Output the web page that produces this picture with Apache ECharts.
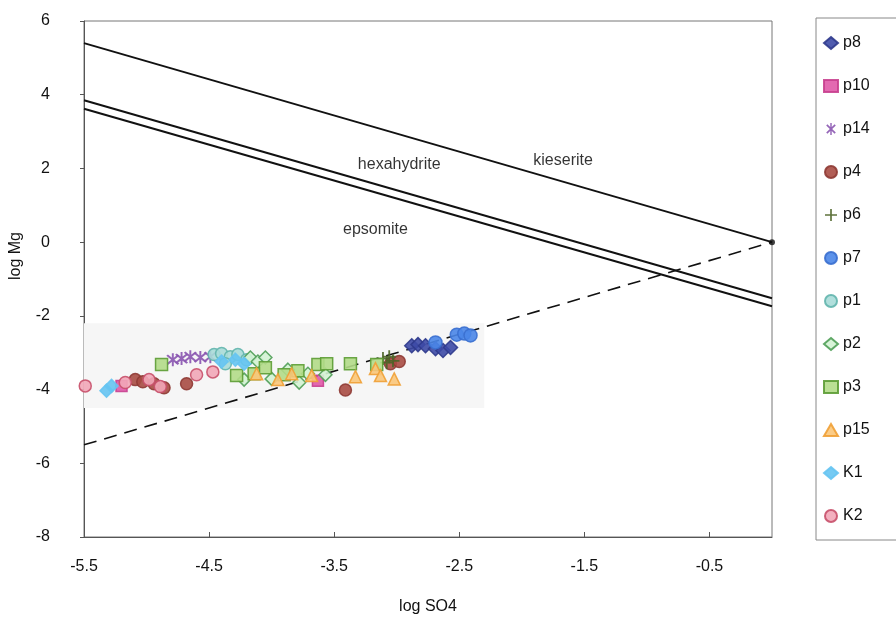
<!DOCTYPE html>
<html>
<head>
<meta charset="utf-8">
<script src="https://cdn.jsdelivr.net/npm/echarts@6/dist/echarts.min.js"></script>
<style>html,body{margin:0;padding:0;background:#fff}#c{width:896px;height:620px}</style>
</head>
<body>
<div id="c"></div>
<script>
// ---- data (log SO4, log Mg) ----
var p8  = [[-2.88,-2.81],[-2.83,-2.78],[-2.77,-2.81],[-2.69,-2.89],[-2.63,-2.94],[-2.57,-2.86]];
var p10 = [[-5.20,-3.90],[-3.63,-3.76]];
var p14 = [[-4.79,-3.19],[-4.72,-3.16],[-4.65,-3.11],[-4.57,-3.13],[-4.49,-3.11]];
var p4  = [[-5.09,-3.73],[-5.03,-3.79],[-4.94,-3.84],[-4.86,-3.95],[-4.68,-3.84],[-3.41,-4.01],[-3.05,-3.30],[-2.98,-3.24]];
var p6  = [[-3.11,-3.16],[-3.06,-3.11],[-3.03,-3.22],[-3.08,-3.27]];
var p7  = [[-2.69,-2.72],[-2.52,-2.51],[-2.46,-2.48],[-2.41,-2.53]];
var p1  = [[-4.46,-3.05],[-4.40,-3.02],[-4.33,-3.11],[-4.27,-3.05],[-4.20,-3.19],[-4.37,-3.30]];
var p2  = [[-4.17,-3.13],[-4.11,-3.24],[-4.05,-3.13],[-4.22,-3.73],[-4.00,-3.71],[-3.87,-3.46],[-3.78,-3.81],[-3.71,-3.57],[-3.57,-3.60]];
var p3  = [[-4.88,-3.32],[-4.28,-3.62],[-4.14,-3.57],[-4.05,-3.41],[-3.90,-3.60],[-3.79,-3.49],[-3.63,-3.32],[-3.56,-3.30],[-3.37,-3.30],[-3.16,-3.32]];
var p15 = [[-4.12,-3.57],[-3.95,-3.73],[-3.84,-3.57],[-3.68,-3.62],[-3.33,-3.65],[-3.17,-3.43],[-3.13,-3.62],[-3.02,-3.71]];
var K1  = [[-5.32,-4.03],[-5.28,-3.90],[-4.40,-3.24],[-4.29,-3.19],[-4.22,-3.30]];
var K2  = [[-5.49,-3.90],[-5.17,-3.81],[-4.98,-3.73],[-4.89,-3.92],[-4.60,-3.60],[-4.47,-3.52]];

// mineral boundary lines
var kieseriteLine   = [[-5.5, 5.4], [0, 0.0]];
var hexahydriteLine = [[-5.5, 3.85], [0, -1.52]];
var epsomiteLine    = [[-5.5, 3.62], [0, -1.74]];
var dashedLine      = [[-5.5, -5.5], [0, 0]];
var annotations     = [{name:'hexahydrite', value:[-2.98, 2.1]}, {name:'kieserite', value:[-1.67, 2.2]}, {name:'epsomite', value:[-3.17, 0.33]}];

var seriesNames = ['p8','p10','p14','p4','p6','p7','p1','p2','p3','p15','K1','K2'];
var xTicks = [-5.5,-4.5,-3.5,-2.5,-1.5,-0.5];
var yTicks = [-8,-6,-4,-2,0,2,4,6];

var FONT = "'Liberation Sans', Arial, sans-serif";
var asterisk = 'path://M1,2 L2,1 L5,4 L8,1 L9,2 L6,5 L9,8 L8,9 L5,6 L2,9 L1,8 L4,5 Z M4.4,0 L5.6,0 L5.6,10 L4.4,10 Z';
var plus = 'path://M4.3,0 L5.7,0 L5.7,4.3 L10,4.3 L10,5.7 L5.7,5.7 L5.7,10 L4.3,10 L4.3,5.7 L0,5.7 L0,4.3 L4.3,4.3 Z';

var styles = {
  p8:  {symbol:'diamond',  color:'#3d4aa6', border:'#2f3a8c', size:14},
  p10: {symbol:'rect',     color:'#e05aa8', border:'#c8408f', size:11},
  p14: {symbol:asterisk,   color:'#8a55b0', border:'#8a55b0', size:13},
  p4:  {symbol:'circle',   color:'#a84c44', border:'#8e3a34', size:12},
  p6:  {symbol:plus,       color:'#4d6427', border:'#4d6427', size:13},
  p7:  {symbol:'circle',   color:'#4a86e8', border:'#3a6fcf', size:13},
  p1:  {symbol:'circle',   color:'#a9dcd8', border:'#62b5ad', size:12},
  p2:  {symbol:'diamond',  color:'#d4f3d4', border:'#4f9e56', size:13},
  p3:  {symbol:'rect',     color:'#b2dc88', border:'#5c9c34', size:12},
  p15: {symbol:'triangle', color:'#fbc77a', border:'#f0a035', size:12},
  K1:  {symbol:'diamond',  color:'#66c4f2', border:'#66c4f2', size:13},
  K2:  {symbol:'circle',   color:'#f2a7b8', border:'#c8506a', size:12}
};
var dataMap = {p8:p8,p10:p10,p14:p14,p4:p4,p6:p6,p7:p7,p1:p1,p2:p2,p3:p3,p15:p15,K1:K1,K2:K2};

var series = [];
function lineSeries(name, data, dashed) {
  return {name:name, type:'line', data:data, symbol:'none', silent:true, z:1,
    lineStyle:{color:'#111', width: dashed ? 1.6 : 2, type: dashed ? [13,8] : 'solid'}};
}
series.push(lineSeries('kieserite', kieseriteLine, false));
series.push(lineSeries('hexahydrite', hexahydriteLine, false));
series.push(lineSeries('epsomite', epsomiteLine, false));
var dl = lineSeries('dashed', dashedLine, true);
dl.markArea = {silent:true, itemStyle:{color:'#f6f6f6'}, data:[[{coord:[-5.5,-2.2]},{coord:[-2.3,-4.5]}]]};
series.push(dl);
series.push({name:'end', type:'scatter', data:[[0,0]], symbol:'circle', symbolSize:6, itemStyle:{color:'#111'}, silent:true, z:3});
series.push({name:'labels', type:'scatter', data:annotations, symbolSize:0, silent:true,
  label:{show:true, formatter:'{b}', position:'inside', color:'#000', fontSize:16, fontFamily:FONT}});

seriesNames.forEach(function(n){
  var s = styles[n];
  series.push({name:n, type:'scatter', data:dataMap[n], symbol:s.symbol, symbolSize:s.size, z:4,
    itemStyle:{color:s.color, borderColor:s.border, borderWidth:(s.symbol===asterisk||s.symbol===plus)?0:1.5, opacity:0.9}});
});

var chart = echarts.init(document.getElementById('c'), null, {renderer:'canvas'});
chart.setOption({
  animation:false,
  backgroundColor:'#fff',
  textStyle:{fontFamily:FONT},
  grid:{left:83, right:124, top:21, bottom:83, show:true, borderColor:'#777', borderWidth:1},
  xAxis:{type:'value', min:-5.5, max:0, interval:1,
    name:'log SO4', nameLocation:'middle', nameGap:62,
    nameTextStyle:{fontSize:16, color:'#111', fontFamily:FONT},
    axisLine:{show:true, onZero:false, lineStyle:{color:'#555'}},
    axisTick:{show:true, inside:true, length:5, lineStyle:{color:'#555'}},
    axisLabel:{color:'#111', fontSize:16, margin:22, showMaxLabel:false, fontFamily:FONT,
      formatter:function(v){ return xTicks.indexOf(+v.toFixed(1))>=0 ? v.toFixed(1) : ''; }},
    splitLine:{show:false}},
  yAxis:{type:'value', min:-8, max:6, interval:2,
    name:'log Mg', nameLocation:'middle', nameGap:60, nameRotate:90,
    nameTextStyle:{fontSize:16, color:'#111', fontFamily:FONT, padding:[0,0,0,46]},
    axisLine:{show:true, onZero:false, lineStyle:{color:'#555'}},
    axisTick:{show:true, length:4, lineStyle:{color:'#555'}},
    axisLabel:{color:'#111', fontSize:16, margin:34, fontFamily:FONT,
      formatter:function(v){ return yTicks.indexOf(v)>=0 ? String(v) : ''; }},
    splitLine:{show:false}},
  legend:{data:seriesNames, orient:'vertical', left:816, top:18,
    padding:[17,40,16,7], itemGap:27, itemWidth:14, itemHeight:12,
    borderColor:'#888', borderWidth:1, backgroundColor:'#fff',
    textStyle:{fontSize:16, color:'#111', fontFamily:FONT}},
  series:series
});
</script>
</body>
</html>
